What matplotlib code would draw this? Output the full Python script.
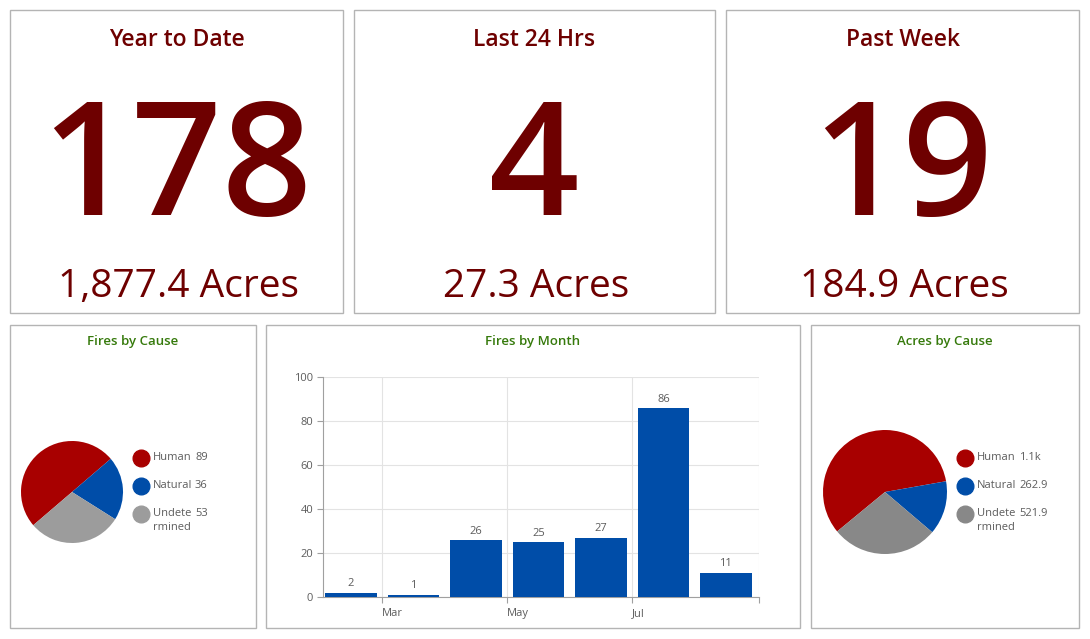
import matplotlib.pyplot as plt
from matplotlib.patches import Rectangle

plt.rcParams['font.family'] = ['Open Sans', 'DejaVu Sans']

# === DATA ===
card_titles = ["Year to Date", "Last 24 Hrs", "Past Week"]
card_counts = ["178", "4", "19"]
card_acres = ["1,877.4 Acres", "27.3 Acres", "184.9 Acres"]

cause_labels = ["Human", "Natural", "Undetermined"]
fires_by_cause = [89, 36, 53]
fires_by_cause_text = ["89", "36", "53"]
acres_by_cause = [1092.6, 262.9, 521.9]
acres_by_cause_text = ["1.1k", "262.9", "521.9"]

months = ["Feb", "Mar", "Apr", "May", "Jun", "Jul", "Aug"]
fires_by_month = [2, 1, 26, 25, 27, 86, 11]

# === STYLE ===
W, H = 1090, 639
DARK_RED = '#6e0000'
GREEN = '#367a0c'
BORDER = '#b4b4b4'
GRAY_TXT = '#5c5c5c'
RED = '#a80000'
BLUE = '#004da8'


def fig_box(x0, y0, x1, y1):
    # pixel box (top-left origin) -> figure fraction rect
    return [x0 / W, 1 - y1 / H, (x1 - x0) / W, (y1 - y0) / H]


fig = plt.figure(figsize=(W / 100, H / 100), dpi=100)
bg = fig.add_axes([0, 0, 1, 1])
bg.set_xlim(0, W)
bg.set_ylim(H, 0)
bg.axis('off')

# panel frames
top_panels = [(10, 10, 343, 313), (354, 10, 715, 313), (726, 10, 1079, 313)]
bottom_panels = [(10, 325, 256, 628), (266, 325, 800, 628), (811, 325, 1079, 628)]
for x0, y0, x1, y1 in top_panels + bottom_panels:
    bg.add_patch(Rectangle((x0, y0), x1 - x0, y1 - y0, facecolor='white',
                           edgecolor=BORDER, linewidth=1))

# indicator cards
for (x0, y0, x1, y1), title, count, acres in zip(top_panels, card_titles, card_counts, card_acres):
    cx = (x0 + x1) / 2
    bg.text(cx, 46, title, ha='center', va='baseline', fontsize=16.5, color=DARK_RED,
            fontweight='semibold')
    bg.text(cx, 215, count, ha='center', va='baseline', fontsize=114, color=DARK_RED,
            fontweight='semibold')
    bg.text(cx + 2, 297, acres, ha='center', va='baseline', fontsize=28, color=DARK_RED)

# bottom titles
for (x0, y0, x1, y1), title in zip(bottom_panels, ["Fires by Cause", "Fires by Month", "Acres by Cause"]):
    bg.text((x0 + x1) / 2, 345, title, ha='center', va='baseline', fontsize=9.5, color=GREEN,
            fontweight='semibold')


def draw_pie(cx, cy, r, values, colors, start, lx, vx, value_text):
    ax = fig.add_axes(fig_box(cx - r, cy - r, cx + r, cy + r))
    ax.pie(values, colors=colors, startangle=start, counterclock=False,
           wedgeprops=dict(linewidth=0))
    ax.set_xlim(-1, 1)
    ax.set_ylim(-1, 1)
    ax.set_aspect('equal')
    ys = [458, 486, 514]
    for y, lab, val, col in zip(ys, cause_labels, value_text, colors):
        bg.plot(lx, y, 'o', markersize=12, color=col)
        if lab == "Undetermined":
            bg.text(lx + 12, y, "Undete", va='center', fontsize=8, color=GRAY_TXT)
            bg.text(lx + 12, y + 14, "rmined", va='center', fontsize=8, color=GRAY_TXT)
        else:
            bg.text(lx + 12, y, lab, va='center', fontsize=8, color=GRAY_TXT)
        bg.text(vx, y, val, va='center', fontsize=8, color=GRAY_TXT)


draw_pie(72, 492, 51, fires_by_cause, [RED, BLUE, '#9c9c9c'], 220.6, 141, 195, fires_by_cause_text)
draw_pie(885, 492, 62, acres_by_cause, [RED, BLUE, '#888888'], 219.5, 965, 1019, acres_by_cause_text)

# bar chart
ax = fig.add_axes(fig_box(323, 377, 759, 597))
x = list(range(len(months)))
bars = ax.bar(x, fires_by_month, width=0.83, color=BLUE, zorder=3)
for b, v in zip(bars, fires_by_month):
    ax.text(b.get_x() + b.get_width() / 2, v + 1.5, str(v), ha='center', va='bottom',
            fontsize=8, color=GRAY_TXT)
ax.set_xlim(-0.45, 6.53)
ax.set_ylim(0, 100)
ax.set_yticks([0, 20, 40, 60, 80, 100])
ax.set_xticks([0.5, 2.5, 4.5, 6.53])
ax.set_xticklabels(["Mar", "May", "Jul", ""])
for lab in ax.get_xticklabels():
    lab.set_horizontalalignment('left')
ax.grid(True, color='#e3e3e3', linewidth=0.8, zorder=0)
for s in ['top', 'right']:
    ax.spines[s].set_visible(False)
for s in ['left', 'bottom']:
    ax.spines[s].set_color('#a0a0a0')
ax.tick_params(axis='both', colors='#a0a0a0', labelcolor=GRAY_TXT, labelsize=8, length=4)
ax.tick_params(axis='y', pad=3)
ax.tick_params(axis='x', pad=4)

fig.savefig('out.png', dpi=100)
